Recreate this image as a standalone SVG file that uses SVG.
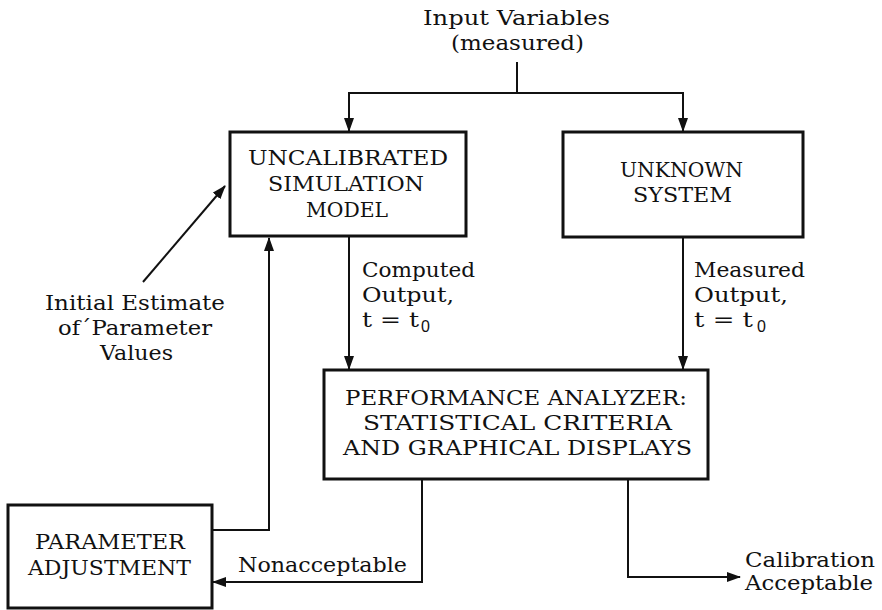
<svg xmlns="http://www.w3.org/2000/svg" width="882" height="610" viewBox="0 0 882 610">
<style>
text{font-family:"DejaVu Serif","Liberation Serif",serif;font-size:20.5px;fill:#111}
.sub{font-family:"Liberation Sans","DejaVu Sans",sans-serif;font-size:16px}
.box{fill:#fff;stroke:#111;stroke-width:3}
.c{fill:none;stroke:#111;stroke-width:2}
</style>
<defs>
<marker id="ah" markerUnits="userSpaceOnUse" markerWidth="14" markerHeight="12" refX="13" refY="5" orient="auto">
<path d="M0,0 L14,5 L0,10 Z" fill="#111"/>
</marker>
</defs>
<rect width="882" height="610" fill="#fff"/>
<g id="connectors">
<path class="c" d="M517,62 V93"/>
<path class="c" d="M517,93 H349 V131" marker-end="url(#ah)"/>
<path class="c" d="M517,93 H683 V131" marker-end="url(#ah)"/>
<path class="c" d="M349,237 V369" marker-end="url(#ah)"/>
<path class="c" d="M683,237 V369" marker-end="url(#ah)"/>
<path class="c" d="M143,282 L225,186" marker-end="url(#ah)"/>
<path class="c" d="M212,530 H269 V238" marker-end="url(#ah)"/>
<path class="c" d="M422,479 V582 H213" marker-end="url(#ah)"/>
<path class="c" d="M628,479 V577 H740" marker-end="url(#ah)"/>
</g>
<g id="input-label">
<text x="423" y="25" textLength="187" lengthAdjust="spacingAndGlyphs">Input Variables</text>
<text x="451" y="50" textLength="133" lengthAdjust="spacingAndGlyphs">(measured)</text>
</g>
<g id="model">
<rect class="box" x="230" y="132" width="236" height="104"/>
<text x="248" y="165" textLength="200" lengthAdjust="spacingAndGlyphs">UNCALIBRATED</text>
<text x="268" y="191" textLength="156" lengthAdjust="spacingAndGlyphs">SIMULATION</text>
<text x="306" y="217" textLength="82" lengthAdjust="spacingAndGlyphs">MODEL</text>
</g>
<g id="system">
<rect class="box" x="563" y="132" width="240" height="105"/>
<text x="620" y="177" textLength="123" lengthAdjust="spacingAndGlyphs">UNKNOWN</text>
<text x="633" y="202" textLength="99" lengthAdjust="spacingAndGlyphs">SYSTEM</text>
</g>
<g id="initial-estimate">
<text x="45" y="310" textLength="180" lengthAdjust="spacingAndGlyphs">Initial Estimate</text>
<text x="58" y="335" textLength="154" lengthAdjust="spacingAndGlyphs">of´Parameter</text>
<text x="100" y="360" textLength="73" lengthAdjust="spacingAndGlyphs">Values</text>
</g>
<g id="computed-label">
<text x="362" y="277" textLength="113" lengthAdjust="spacingAndGlyphs">Computed</text>
<text x="362" y="302" textLength="92" lengthAdjust="spacingAndGlyphs">Output,</text>
<text x="362" y="327"><tspan textLength="57" lengthAdjust="spacingAndGlyphs">t = t</tspan><tspan class="sub" x="421" y="332">0</tspan></text>
</g>
<g id="measured-label">
<text x="694" y="277" textLength="111" lengthAdjust="spacingAndGlyphs">Measured</text>
<text x="694" y="302" textLength="94" lengthAdjust="spacingAndGlyphs">Output,</text>
<text x="694" y="327"><tspan textLength="59" lengthAdjust="spacingAndGlyphs">t = t</tspan><tspan class="sub" x="757" y="332">0</tspan></text>
</g>
<g id="analyzer">
<rect class="box" x="324" y="370" width="384" height="109"/>
<text x="345" y="405" textLength="342" lengthAdjust="spacingAndGlyphs">PERFORMANCE ANALYZER:</text>
<text x="363" y="430" textLength="309" lengthAdjust="spacingAndGlyphs">STATISTICAL CRITERIA</text>
<text x="343" y="455" textLength="349" lengthAdjust="spacingAndGlyphs">AND GRAPHICAL DISPLAYS</text>
</g>
<g id="adjustment">
<rect class="box" x="8" y="505" width="204" height="103"/>
<text x="35" y="549" textLength="150" lengthAdjust="spacingAndGlyphs">PARAMETER</text>
<text x="28" y="575" textLength="163" lengthAdjust="spacingAndGlyphs">ADJUSTMENT</text>
</g>
<g id="nonacceptable-label">
<text x="238" y="572" textLength="169" lengthAdjust="spacingAndGlyphs">Nonacceptable</text>
</g>
<g id="acceptable-label">
<text x="745" y="567" textLength="130" lengthAdjust="spacingAndGlyphs">Calibration</text>
<text x="745" y="590" textLength="128" lengthAdjust="spacingAndGlyphs">Acceptable</text>
</g>
</svg>
